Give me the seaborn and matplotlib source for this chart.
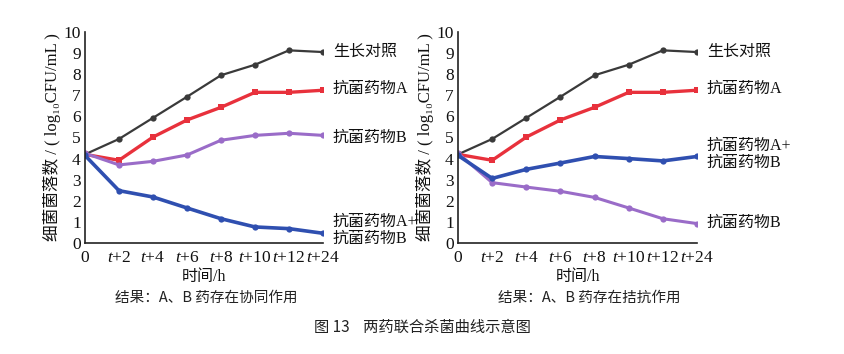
import matplotlib
matplotlib.use("Agg")
import matplotlib.pyplot as plt
import seaborn as sns
import pandas as pd

sns.set_theme(style="white")
FAM = ['Liberation Serif', 'Noto Sans CJK SC', 'DejaVu Serif']
plt.rcParams['font.family'] = FAM
plt.rcParams['mathtext.fontset'] = 'custom'
plt.rcParams['mathtext.it'] = 'Liberation Serif:italic'
plt.rcParams['mathtext.rm'] = 'Liberation Serif'

times = ["0", "t+2", "t+4", "t+6", "t+8", "t+10", "t+12", "t+24"]
tick_labels = ["0", "$t$+2", "$t$+4", "$t$+6", "$t$+8", "$t$+10", "$t$+12", "$t$+24"]

control = [4.2, 4.93, 5.93, 6.93, 7.95, 8.45, 9.13, 9.05]
drug_a = [4.2, 3.92, 5.02, 5.83, 6.43, 7.14, 7.14, 7.24]

left_b = [4.25, 3.7, 3.87, 4.17, 4.87, 5.1, 5.2, 5.1]
left_ab = [4.15, 2.48, 2.18, 1.66, 1.15, 0.76, 0.68, 0.46]

right_b = [4.25, 2.86, 2.65, 2.45, 2.16, 1.66, 1.15, 0.92]
right_ab = [4.15, 3.06, 3.49, 3.79, 4.1, 4.0, 3.89, 4.1]

series_names = ["生长对照", "抗菌药物A", "抗菌药物B", "抗菌药物A+\n抗菌药物B"]
colors = {"生长对照": "#3a3a3a", "抗菌药物A": "#e8313c",
          "抗菌药物B": "#9a6cc8", "抗菌药物A+\n抗菌药物B": "#2f4fb0"}
widths = {"生长对照": 1.6, "抗菌药物A": 2.4, "抗菌药物B": 2.2, "抗菌药物A+\n抗菌药物B": 2.6}
markers = {"生长对照": "o", "抗菌药物A": "s", "抗菌药物B": "o", "抗菌药物A+\n抗菌药物B": "o"}

panels = [
    ([control, drug_a, left_b, left_ab], [9.05, 7.3, 5.0, 0.6], "结果：A、B 药存在协同作用"),
    ([control, drug_a, right_b, right_ab], [9.05, 7.3, 0.95, 4.2], "结果：A、B 药存在拮抗作用"),
]

fig = plt.figure(figsize=(8.44, 3.54), dpi=100)
axes_pos = [[0.1007, 0.3136, 0.282, 0.596], [0.5427, 0.3136, 0.2831, 0.596]]
cap_x = [0.244, 0.698]

for i, (vals, label_y, caption) in enumerate(panels):
    ax = fig.add_axes(axes_pos[i])
    rows = []
    for name, v in zip(series_names, vals):
        for j, t in enumerate(times):
            rows.append({"time": j, "value": v[j], "series": name})
    df = pd.DataFrame(rows)
    for name in series_names:
        sub = df[df.series == name]
        sns.lineplot(data=sub, x="time", y="value", ax=ax, color=colors[name],
                     lw=widths[name], marker=markers[name], markersize=4.5,
                     markeredgewidth=0, legend=False)
        last = sub.iloc[-1]
        ax.annotate(name, xy=(last.time, label_y[series_names.index(name)]),
                    xytext=(7, 0), textcoords="offset points", va="center", ha="left",
                    fontsize=11.5, family=FAM, color="#111111", annotation_clip=False,
                    linespacing=1.15)
    ax.set_xlim(0, 7)
    ax.set_ylim(0, 10)
    ax.set_yticks(range(0, 11))
    ax.set_xticks(range(8))
    ax.set_xticklabels(tick_labels)
    ax.tick_params(axis="both", direction="in", length=4, width=1, color="#222222",
                   labelsize=12.5, labelcolor="#111111", pad=3)
    ax.tick_params(axis="x", pad=5)
    for s in ["top", "right"]:
        ax.spines[s].set_visible(False)
    for s in ["left", "bottom"]:
        ax.spines[s].set_color("#222222")
        ax.spines[s].set_linewidth(1.2)
    ax.set_xlabel("时间/h", fontsize=11.5, color="#111111", labelpad=2)
    ax.set_ylabel("细菌菌落数 / ( log₁₀CFU/mL )", fontsize=12, color="#111111", labelpad=2)
    fig.text(cap_x[i], 0.158, caption, ha="center", va="center", fontsize=10.5,
             family=['Noto Sans CJK SC', 'DejaVu Sans'], color="#222222")

fig.text(0.5, 0.076, "图 13    两药联合杀菌曲线示意图", ha="center", va="center", fontsize=11,
         family=['Noto Sans CJK SC', 'DejaVu Sans'], color="#222222")

fig.savefig("out.png", dpi=100, facecolor="white")
